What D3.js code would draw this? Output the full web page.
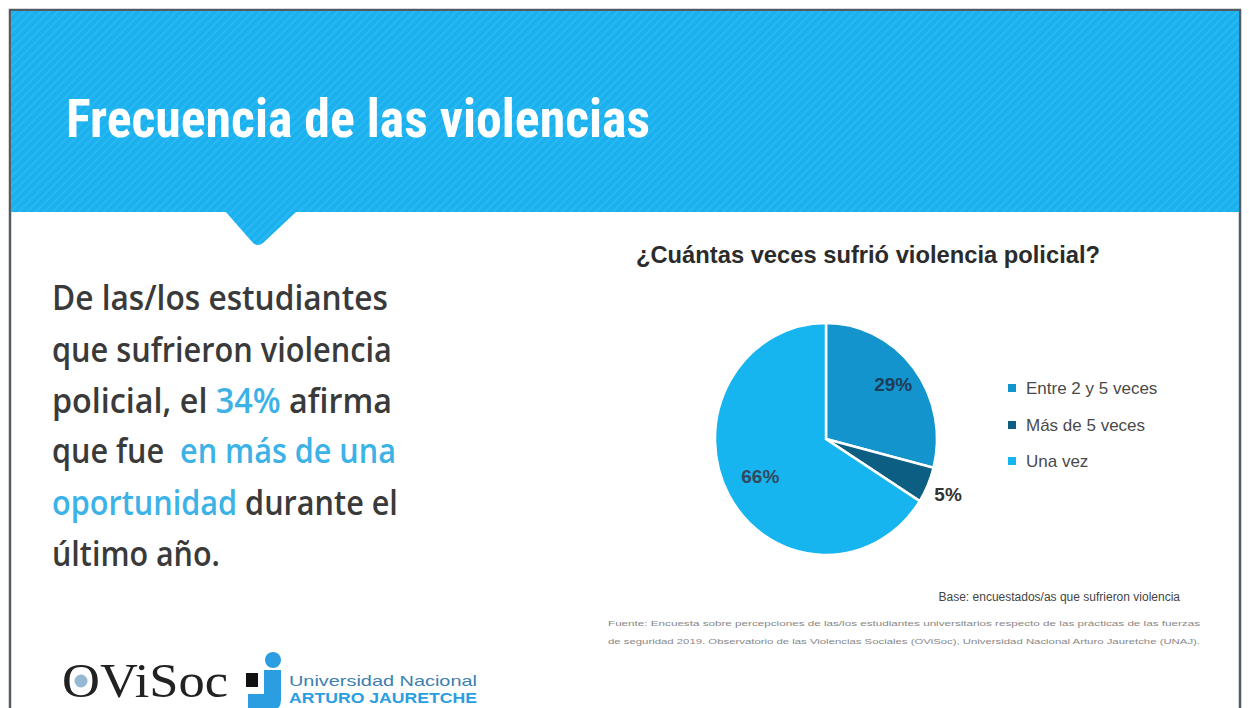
<!DOCTYPE html>
<html>
<head>
<meta charset="utf-8">
<script src="https://cdn.jsdelivr.net/npm/d3@7"></script>
<style>
  html, body { margin: 0; padding: 0; background: #ffffff; }
  svg { display: block; }
</style>
</head>
<body>
<div id="chart"></div>
<script>
// ---------- Data ----------
const categories = ["Entre 2 y 5 veces", "Más de 5 veces", "Una vez"];
const values = [29, 5, 66];
const valueLabels = ["29%", "5%", "66%"];
const sliceColors = ["#1494cc", "#0c5e82", "#16b5f0"];

const pageTitle = "Frecuencia de las violencias";
const chartTitle = "¿Cuántas veces sufrió violencia policial?";
const baseNote = "Base: encuestados/as  que sufrieron  violencia";
const sourceLines = [
  "Fuente: Encuesta sobre percepciones de las/los estudiantes universitarios respecto de las prácticas de las fuerzas",
  "de seguridad 2019. Observatorio de las Violencias Sociales (OViSoc), Universidad Nacional Arturo Jauretche (UNAJ)."
];
// left paragraph: each line is a list of [text, highlighted]
const paragraph = [
  [["De las/los estudiantes", false]],
  [["que sufrieron violencia", false]],
  [["policial, el ", false], ["34%", true], [" afirma", false]],
  [["que fue  ", false], ["en más de una", true]],
  [["oportunidad", true], [" durante el", false]],
  [["último año.", false]]
];
const paragraphWidths = [336, 340, 340, 344, 346, 168];

// ---------- Layout ----------
const W = 1249, H = 708;
const svg = d3.select("#chart").append("svg").attr("width", W).attr("height", H);

// stripe pattern for header
const defs = svg.append("defs");
const pat = defs.append("pattern").attr("id", "stripes").attr("patternUnits", "userSpaceOnUse")
  .attr("width", 6).attr("height", 6).attr("patternTransform", "rotate(45)");
pat.append("rect").attr("width", 6).attr("height", 6).attr("fill", "#1bb0ee");
pat.append("rect").attr("width", 2).attr("height", 6).attr("fill", "#29b8f2");

// frame
svg.append("rect").attr("x", 0).attr("y", 0).attr("width", W).attr("height", H).attr("fill", "#ffffff");
svg.append("rect").attr("x", 10).attr("y", 10).attr("width", 1230).attr("height", H).attr("fill", "none")
  .attr("stroke", "#555b63").attr("stroke-width", 2.5);

// header band + pointer
const header = svg.append("g");
header.append("rect").attr("x", 11).attr("y", 11).attr("width", 1228).attr("height", 201).attr("fill", "url(#stripes)");
header.append("path").attr("d", "M225,211 L297,211 L263,243 Q258,247 253,243 Z").attr("fill", "url(#stripes)");

header.append("text")
  .attr("x", 66).attr("y", 137)
  .attr("font-family", "'Liberation Sans Narrow', 'Roboto Condensed', 'Liberation Sans', sans-serif")
  .attr("font-weight", "bold").attr("font-size", 54)
  .attr("textLength", 584).attr("lengthAdjust", "spacingAndGlyphs")
  .attr("fill", "#ffffff").text(pageTitle);

// left paragraph: each segment is its own text; the line group is scaled to target width
const para = svg.append("g");
const baselines = [310, 362, 413, 463, 515, 566];
paragraph.forEach((line, i) => {
  const lg = para.append("g");
  let x = 0;
  line.forEach(([txt, hl]) => {
    const t = lg.append("text").attr("x", x).attr("y", 0)
      .attr("font-family", "'Open Sans', 'Noto Sans', sans-serif")
      .attr("font-weight", 600).attr("font-size", 34)
      .style("white-space", "pre")
      .attr("fill", hl ? "#3cb2e6" : "#3a3a3a").text(txt);
    x += t.node().getComputedTextLength();
  });
  const sx = paragraphWidths[i] / x;
  lg.attr("transform", `translate(52,${baselines[i]}) scale(${sx},1)`);
});

// chart title
svg.append("text").attr("x", 636).attr("y", 263)
  .attr("font-family", "'Liberation Sans Narrow', 'Liberation Sans', sans-serif")
  .attr("font-weight", "bold").attr("font-size", 24)
  .attr("textLength", 464).attr("lengthAdjust", "spacingAndGlyphs")
  .attr("fill", "#2b2b2b").text(chartTitle);

// ---------- Pie ----------
const cx = 826, cy = 439, rx = 111, ry = 116;
const pie = d3.pie().sort(null).value(d => d)(values);
const arc = d3.arc().innerRadius(0).outerRadius(rx);
const pieG = svg.append("g").attr("transform", `translate(${cx},${cy}) scale(1,${ry / rx})`);
pieG.selectAll("path").data(pie).join("path")
  .attr("d", arc)
  .attr("fill", (d, i) => sliceColors[i])
  .attr("stroke", "#ffffff").attr("stroke-width", 2.5);

const labelR = [85, 133, 75];
const labelColors = ["#1c3d58", "#333333", "#34495e"];
const labG = svg.append("g").attr("transform", `translate(${cx},${cy})`);
pie.forEach((d, i) => {
  const a = (d.startAngle + d.endAngle) / 2;
  const x = Math.sin(a) * labelR[i];
  const y = -Math.cos(a) * labelR[i] * (ry / rx);
  labG.append("text").attr("x", x).attr("y", y).attr("dy", "0.35em")
    .attr("text-anchor", "middle")
    .attr("font-family", "'Liberation Sans', Arial, sans-serif")
    .attr("font-weight", "bold").attr("font-size", 19)
    .attr("fill", labelColors[i]).text(valueLabels[i]);
});

// legend
const legY = [388, 425, 461];
const leg = svg.append("g");
categories.forEach((c, i) => {
  leg.append("rect").attr("x", 1008).attr("y", legY[i] - 4).attr("width", 8).attr("height", 8).attr("fill", sliceColors[i]);
  leg.append("text").attr("x", 1026).attr("y", legY[i]).attr("dy", "0.35em")
    .attr("font-family", "'Liberation Sans Narrow', 'Liberation Sans', sans-serif")
    .attr("font-size", 17).attr("fill", "#4a4a4a").text(c);
});

// notes
svg.append("text").attr("x", 1180).attr("y", 601).attr("text-anchor", "end")
  .attr("font-family", "'Liberation Sans Narrow', 'Liberation Sans', sans-serif")
  .attr("font-size", 12).attr("fill", "#444").text(baseNote);
sourceLines.forEach((s, i) => {
  svg.append("text").attr("x", 608).attr("y", 626 + i * 18)
    .attr("font-family", "'Liberation Sans', sans-serif")
    .attr("font-size", 7.5).attr("fill", "#888")
    .attr("textLength", 592).attr("lengthAdjust", "spacingAndGlyphs").text(s);
});

// ---------- Logos ----------
const logo = svg.append("g");
logo.append("text").attr("x", 62).attr("y", 697)
  .attr("font-family", "'Liberation Serif', 'DejaVu Serif', serif")
  .attr("font-size", 48).attr("fill", "#222")
  .attr("textLength", 166).attr("lengthAdjust", "spacingAndGlyphs").text("OViSoc");
logo.append("circle").attr("cx", 81).attr("cy", 681).attr("r", 6.5).attr("fill", "#7aa6c8").attr("opacity", 0.8);

// UNAJ mark
logo.append("rect").attr("x", 246).attr("y", 673).attr("width", 12).attr("height", 14).attr("fill", "#111");
logo.append("circle").attr("cx", 273).attr("cy", 660).attr("r", 8).attr("fill", "#2a9ee0");
logo.append("path").attr("d", "M264,670 L281,670 L281,700 Q281,712 266,712 L248,712 L248,694 L264,694 Z").attr("fill", "#2a9ee0");
logo.append("text").attr("x", 289).attr("y", 686)
  .attr("font-family", "'Liberation Sans', sans-serif").attr("font-size", 15)
  .attr("fill", "#3c7fb0").attr("textLength", 188).attr("lengthAdjust", "spacingAndGlyphs").text("Universidad Nacional");
logo.append("text").attr("x", 289).attr("y", 703)
  .attr("font-family", "'Liberation Sans', sans-serif").attr("font-weight", "bold").attr("font-size", 15)
  .attr("fill", "#2a9ee0").attr("textLength", 188).attr("lengthAdjust", "spacingAndGlyphs").text("ARTURO JAURETCHE");
</script>
</body>
</html>
